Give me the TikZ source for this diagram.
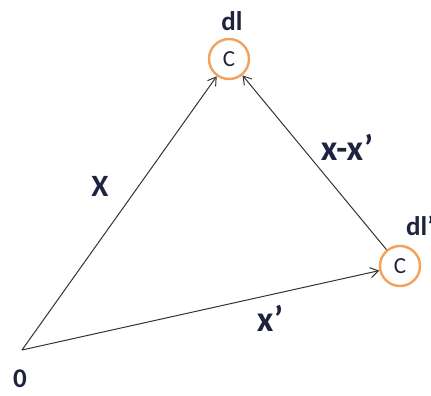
\documentclass[tikz,border=0pt]{standalone}
\usepackage{fontspec}
\setmainfont{Carlito}
\usepackage{tikz}
\usetikzlibrary{arrows.meta,positioning,calc}
\definecolor{orange}{HTML}{F0A25A}
\definecolor{encre}{HTML}{1E2440}
\definecolor{gris}{HTML}{333333}
\tikzset{
  cercle/.style={circle,draw=orange,line width=2.4pt,minimum size=40pt,inner sep=0pt,
                 text=encre,font=\fontsize{23}{25}\selectfont},
  etiquette/.style={text=encre,font=\fontsize{27}{29}\selectfont\bfseries,inner sep=0pt},
  fleche/.style={-{Straight Barb[length=8pt,width=10pt]},line width=1pt,color=gris},
}

\begin{document}
\begin{tikzpicture}[x=1pt,y=-1pt]
  \useasboundingbox (0,0) rectangle (431,396);
  \clip (0,0) rectangle (431,396);
  \coordinate (orig) at (22,350);
  \node[cercle] (haut) at (229,59) {C};
  \node[cercle] (droite) at (400,266) {C};
  \node[etiquette] (dl) at (232,21) {dl};
  \node[etiquette,anchor=west] (dlp) at (406,226) {dl’};
  \node[etiquette] (zero) at (20,379) {0};
  \draw[fleche] (orig) -- (haut);
  \draw[fleche] (orig) -- (droite);
  \draw[fleche] (droite) -- (haut);
  \node[etiquette,font=\fontsize{31}{33}\selectfont\bfseries] (X) at (100,186) {X};
  \node[etiquette,font=\fontsize{36}{38}\selectfont\bfseries] (xp) at (270,318) {x’};
  \node[etiquette,font=\fontsize{36}{38}\selectfont\bfseries] (xmxp) at (347,147) {x-x’};
\end{tikzpicture}
\end{document}
